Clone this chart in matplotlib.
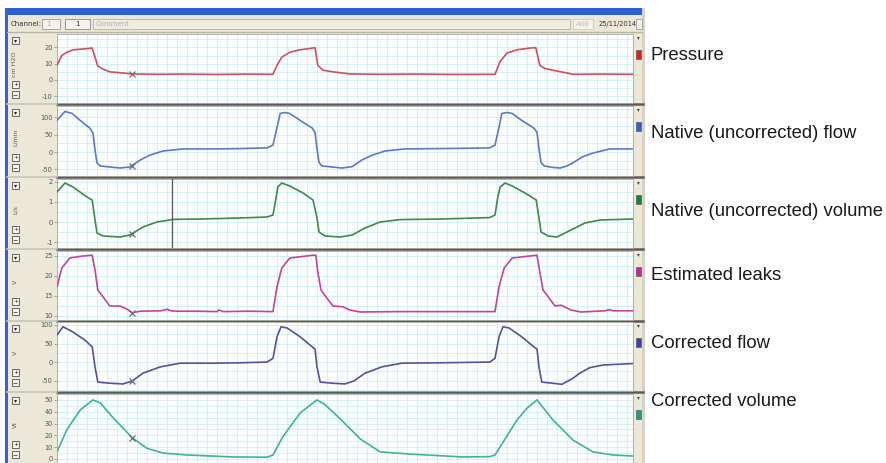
import numpy as np
import matplotlib
matplotlib.use("Agg")
import matplotlib.pyplot as plt
from matplotlib.patches import Rectangle
from matplotlib.ticker import FuncFormatter

# ---------------- data (time in seconds) ----------------
pressure_t = [0.0, 0.12, 0.25, 0.4, 0.65, 0.88, 0.95, 1.02, 1.15, 1.32, 1.65, 1.88, 2.5, 3.2, 4.0, 4.7, 5.4, 5.5, 5.62, 5.82,
              6.07, 6.4, 6.45, 6.52, 6.65, 6.9, 7.33, 8.0, 9.0, 10.0, 10.95, 11.07, 11.25, 11.5, 11.82, 11.97, 12.07, 12.2, 12.5, 12.75,
              12.9, 13.6, 14.4]
pressure_v = [9.0, 15.0, 17.0, 18.5, 19.0, 19.6, 14.0, 8.6, 6.7, 5.0, 4.3, 3.7, 3.5, 3.6, 3.4, 3.6, 3.5, 9.0, 14.0, 17.0,
              18.5, 19.6, 19.8, 9.0, 6.0, 5.0, 3.7, 3.5, 3.6, 3.4, 3.5, 11.0, 16.5, 18.5, 19.6, 19.8, 9.0, 7.0, 5.5, 4.3,
              3.5, 3.6, 3.5]

native_flow_t = [0.0, 0.2, 0.38, 0.58, 0.82, 0.9, 0.95, 1.0, 1.08, 1.32, 1.58, 1.82, 2.08, 2.32, 2.65, 3.15, 4.0, 4.6, 5.25, 5.4,
                 5.5, 5.58, 5.7, 5.82, 6.08, 6.38, 6.45, 6.5, 6.55, 6.62, 6.88, 7.12, 7.38, 7.62, 7.88, 8.2, 8.7, 9.6, 10.3, 10.82,
                 10.95, 11.05, 11.12, 11.25, 11.38, 11.62, 11.92, 12.0, 12.05, 12.1, 12.18, 12.38, 12.58, 12.75, 12.9, 13.15, 13.4, 13.82, 14.4]
native_flow_v = [91, 117, 111, 91, 69, 54, 6, -31, -40, -43, -46, -43, -23, -9, 3, 9, 9, 10, 12, 20,
                 71, 111, 114, 111, 91, 69, 57, 10, -30, -40, -43, -46, -42, -23, -9, 3, 9, 10, 11, 12,
                 20, 71, 111, 114, 111, 91, 69, 57, 10, -30, -40, -44, -46, -40, -31, -13, -3, 9, 9]

native_vol_t = [0.0, 0.2, 0.4, 0.75, 0.88, 0.95, 1.0, 1.15, 1.58, 1.82, 2.15, 2.5, 2.9, 3.58, 4.58, 5.25, 5.4, 5.48, 5.52, 5.62,
                5.82, 6.15, 6.4, 6.5, 6.55, 6.7, 7.08, 7.38, 7.7, 8.08, 8.58, 9.58, 10.82, 10.95, 11.02, 11.08, 11.2, 11.38, 11.7, 11.98,
                12.05, 12.1, 12.28, 12.5, 12.65, 12.95, 13.2, 13.58, 14.4]
native_vol_v = [1.5, 1.95, 1.75, 1.25, 1.1, 0.1, -0.55, -0.7, -0.75, -0.65, -0.25, 0.0, 0.13, 0.15, 0.2, 0.25, 0.35, 1.25, 1.75, 1.95,
                1.8, 1.45, 1.1, 0.2, -0.5, -0.7, -0.75, -0.65, -0.3, 0.0, 0.12, 0.15, 0.22, 0.35, 1.25, 1.75, 1.95, 1.8, 1.45, 1.1,
                0.2, -0.5, -0.7, -0.75, -0.6, -0.3, -0.05, 0.1, 0.15]

leaks_t = [0.0, 0.12, 0.32, 0.65, 0.88, 0.95, 1.02, 1.15, 1.32, 1.58, 1.75, 1.88, 2.08, 2.6, 2.75, 2.85, 3.0, 3.5, 4.0, 4.05,
           4.15, 4.8, 5.4, 5.5, 5.62, 5.82, 6.4, 6.47, 6.52, 6.6, 6.72, 6.9, 7.15, 7.32, 7.58, 8.5, 9.5, 10.95, 11.05, 11.18,
           11.38, 11.82, 12.0, 12.07, 12.15, 12.28, 12.45, 12.6, 12.85, 13.1, 13.7, 13.8, 13.9, 14.4]
leaks_v = [17.3, 22.0, 24.5, 25.0, 25.2, 21.5, 16.5, 14.8, 12.5, 12.5, 11.7, 10.8, 11.2, 11.3, 11.7, 11.3, 11.2, 11.2, 11.1, 11.5,
           11.1, 11.2, 11.1, 17.3, 22.0, 24.5, 25.2, 25.2, 21.0, 16.5, 14.8, 12.5, 12.3, 11.5, 11.0, 11.1, 11.1, 11.1, 17.3, 22.0,
           24.5, 25.0, 25.2, 21.0, 16.5, 14.8, 12.5, 12.7, 11.5, 11.0, 11.3, 11.6, 11.3, 11.3]

corr_flow_t = [0.0, 0.15, 0.4, 0.7, 0.88, 0.95, 1.02, 1.32, 1.65, 1.88, 2.15, 2.58, 3.08, 3.9, 4.58, 5.25, 5.4, 5.5, 5.6, 5.75,
               6.08, 6.38, 6.45, 6.5, 6.58, 6.88, 7.2, 7.42, 7.7, 8.12, 8.62, 9.58, 10.82, 10.95, 11.05, 11.15, 11.3, 11.62, 11.92, 12.0,
               12.05, 12.12, 12.38, 12.62, 12.88, 13.07, 13.32, 13.65, 14.4]
corr_flow_v = [73, 95, 81, 59, 41, -13, -54, -57, -59, -51, -30, -13, -3, -3, -2, 0, 10, 68, 95, 92,
               68, 41, 35, -13, -54, -57, -59, -51, -30, -13, -3, -2, 0, 10, 68, 95, 92, 68, 41, 35,
               -13, -54, -57, -60, -45, -30, -15, -8, -4]

corr_vol_t = [0.0, 0.25, 0.58, 0.9, 1.08, 1.4, 1.88, 2.25, 2.65, 3.25, 4.4, 5.25, 5.4, 5.65, 6.08, 6.5, 6.7, 7.08, 7.58, 8.08,
              8.9, 10.15, 10.82, 10.95, 11.5, 11.75, 12.0, 12.4, 12.9, 13.4, 13.9, 14.4]
corr_vol_v = [6, 25, 41.5, 50, 47.5, 35, 18, 9, 5, 3.4, 1.7, 1.5, 3.4, 19, 39, 50, 46, 34, 17, 6,
              4, 1.7, 2, 3.4, 33, 43, 50, 33, 16, 6, 3.4, 2.5]

series_names = ["Pressure", "Native (uncorrected) flow", "Native (uncorrected) volume",
                "Estimated leaks", "Corrected flow", "Corrected volume"]
units = ["cm H2O", "L/min", "L/s", "V", "V", "Vt"]
yticks = [[-10, 0, 10, 20], [-50, 0, 50, 100], [-1, 0, 1, 2], [10, 15, 20, 25], [-50, 0, 50, 100], [0, 10, 20, 30, 40, 50]]
ylims = [(-14.1, 28.2), (-69, 132.6), (-1.3, 2.15), (9.0, 26.25), (-78, 108), (-3.4, 55)]
grid_steps = [5, 25, 0.5, 2.5, 25, 5]
cursor_t = 1.875
vline_t = 2.875
date_text = "25/11/2014"

series = [(pressure_t, pressure_v), (native_flow_t, native_flow_v), (native_vol_t, native_vol_v),
          (leaks_t, leaks_v), (corr_flow_t, corr_flow_v), (corr_vol_t, corr_vol_v)]
colors = ["#d04f5e", "#5b78cf", "#3f8a45", "#c4439e", "#5a4f9e", "#3db596"]
swatch = ["#e02020", "#3060d0", "#208030", "#d020a0", "#4040a0", "#20a080"]

# ---------------- figure ----------------
W, H = 886, 463
fig = plt.figure(figsize=(W / 100, H / 100), dpi=100)
fig.patch.set_facecolor("white")
bg = fig.add_axes([0, 0, 1, 1], zorder=0)
bg.set_xlim(0, W)
bg.set_ylim(H, 0)
bg.axis("off")

beige = "#ebe8d8"
bg.add_patch(Rectangle((5, 9), 640, 454, fc=beige, ec="none"))
bg.add_patch(Rectangle((5, 8), 637, 7, fc="#2e5fce", ec="none"))
bg.add_patch(Rectangle((5, 8), 3, 455, fc="#3a62c6", ec="none"))
bg.add_patch(Rectangle((642, 8), 3, 455, fc="#d6d3c4", ec="none"))

# toolbar
tb_y = 24
bg.text(11, tb_y, "Channel:", fontsize=5, color="#333333", va="center", ha="left")
bg.add_patch(Rectangle((42, 19), 18, 10, fc="#f3f2ec", ec="#9a9a9a", lw=0.6))
bg.text(46, tb_y, "1", fontsize=5, color="#aaaaaa", va="center")
bg.add_patch(Rectangle((65, 19), 25, 10, fc="#f3f2ec", ec="#8a8a8a", lw=0.6))
bg.text(77, tb_y, "1", fontsize=5, color="#333333", va="center", ha="center")
bg.add_patch(Rectangle((93, 19), 477, 10, fc="#efede2", ec="#b5b3a5", lw=0.6))
bg.text(96, tb_y, "Comment", fontsize=5, color="#b0b0b0", va="center")
bg.add_patch(Rectangle((573, 19), 20, 10, fc="#f3f2ec", ec="#c8c8c8", lw=0.6))
bg.text(583, tb_y, "Add", fontsize=5, color="#c0c0c0", va="center", ha="center")
bg.text(599, tb_y, date_text, fontsize=4.8, color="#333333", va="center", ha="left")
bg.add_patch(Rectangle((636, 19), 6, 10, fc="#f3f2ec", ec="#9a9a9a", lw=0.6))
bg.plot([7, 642], [32, 32], color="#b8b5a5", lw=1)

tops = [34, 106, 179, 251, 322, 394]
bots = [103, 176, 248, 320, 391, 463]
ax_left, ax_right = 57, 633
hyphen_fmt = FuncFormatter(lambda val, pos: f"{val:g}")

for i, ((t, v), top, bot) in enumerate(zip(series, tops, bots)):
    ax = fig.add_axes([ax_left / W, 1 - bot / H, (ax_right - ax_left) / W, (bot - top) / H], zorder=2)
    ax.set_facecolor("#fbfefe")
    ax.plot(t, v, color=colors[i], lw=1.2, solid_joinstyle="round", zorder=3)
    ax.plot([cursor_t], [np.interp(cursor_t, t, v)], marker="x", color="#707070", ms=5, mew=0.9, zorder=4)
    if i == 2:
        ax.axvline(vline_t, color="#555555", lw=0.9, zorder=4)
    ax.set_xticks(np.arange(0, 14.41, 0.25))
    ax.set_yticks(yticks[i])
    lo, hi = ylims[i]
    start = np.ceil(lo / grid_steps[i]) * grid_steps[i]
    ax.set_yticks(np.arange(start, hi, grid_steps[i]), minor=True)
    ax.set_xlim(0, 14.4)
    ax.set_ylim(lo, hi)
    ax.yaxis.set_major_formatter(hyphen_fmt)
    ax.tick_params(axis="x", length=0, labelbottom=False)
    ax.tick_params(axis="y", which="major", labelsize=4.8, labelcolor="#555555", length=2, width=0.5,
                   color="#888888", pad=1)
    ax.tick_params(axis="y", which="minor", length=0)
    ax.grid(True, which="both", color="#cdeef1", lw=0.6, zorder=0)
    ax.set_axisbelow(True)
    for s in ax.spines.values():
        s.set_color("#a8a8a0")
        s.set_linewidth(0.6)

    # separator
    if bot < H:
        bg.plot([ax_left, ax_right + 10], [bot + 1.2, bot + 1.2], color="#5a5a5a", lw=1.8, zorder=1)
        bg.plot([7, ax_left], [bot + 1.2, bot + 1.2], color="#c9c6b6", lw=1.2, zorder=1)

    # left buttons
    for (by, sym) in [(top + 3, "\u25be"), (bot - 22, "+"), (bot - 12, "\u2212")]:
        bg.add_patch(Rectangle((12, by), 7, 7, fc="#f4f4f0", ec="#505050", lw=0.6, zorder=1))
        bg.text(15.5, by + 3.6, sym, fontsize=4.5, color="#202020", ha="center", va="center", zorder=2)
    bg.text(15, (top + bot) / 2 - 4, units[i], rotation=90, fontsize=4.5, color="#555555",
            ha="center", va="center")

    # right column
    bg.text(638.5, top + 4, "\u25be", fontsize=4, color="#404040", ha="center", va="center")
    bg.add_patch(Rectangle((636, top + 16), 5, 9, fc=swatch[i], ec="#506070", lw=0.5))

# annotations
label_y = [55, 133, 212, 275, 343, 402]
for name, ly in zip(series_names, label_y):
    bg.text(651, ly, name, fontsize=13.3, family="Liberation Sans", color="#1a1a1a",
            ha="left", va="center")

fig.savefig("out.png", dpi=100)
